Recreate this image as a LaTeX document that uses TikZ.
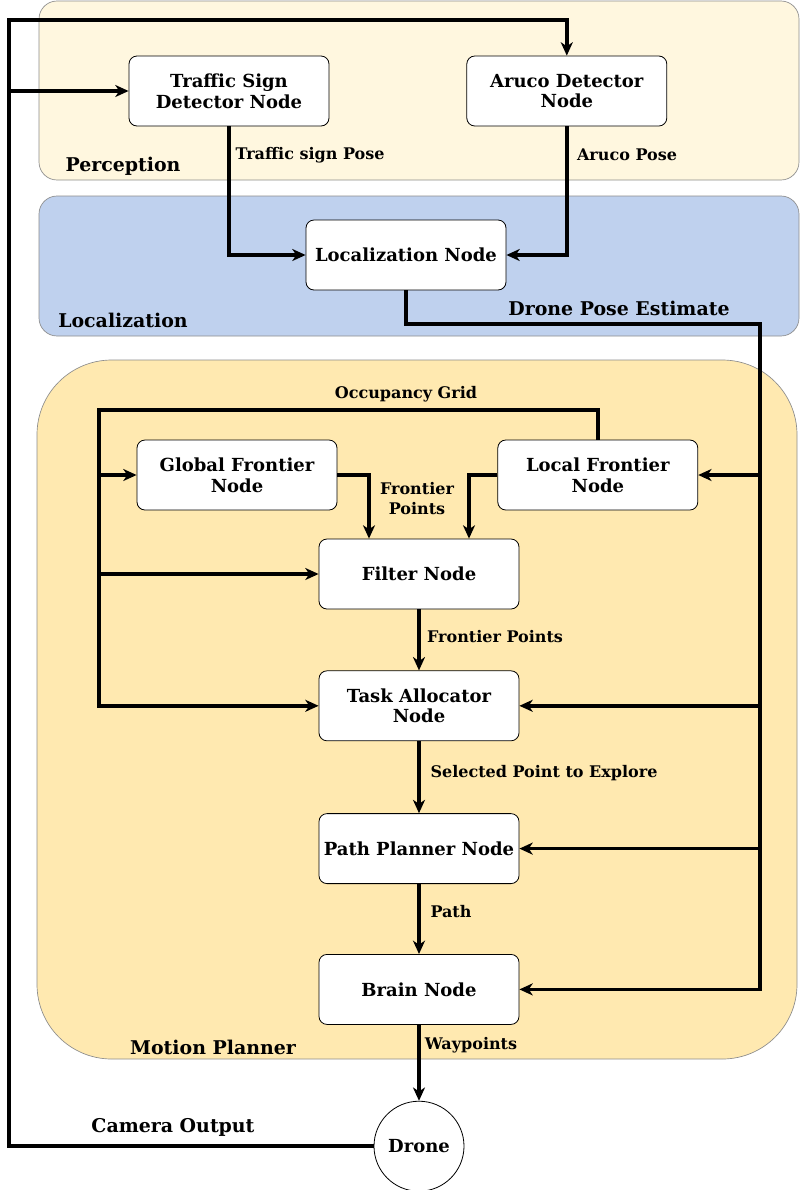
\documentclass[tikz,border=0pt]{standalone}
\usepackage{fontspec}
\setmainfont{DejaVu Serif}
\usetikzlibrary{positioning, arrows.meta, calc}
\definecolor{percFill}{HTML}{FFF7DF}
\definecolor{locFill}{HTML}{BFD1EE}
\definecolor{motFill}{HTML}{FFE9B0}
\definecolor{grpLine}{HTML}{8C8C8C}

\begin{document}
\begin{tikzpicture}[x=0.75pt,y=-0.75pt,nd/.style={draw, fill=white, line width=0.6pt, rounded corners=6pt, minimum width=150pt, minimum height=52.5pt, align=center, inner sep=2pt, font=\bfseries\fontsize{13.5}{15.5}\selectfont},grp/.style={draw=grpLine, line width=0.5pt},glbl/.style={font=\bfseries\fontsize{14.2}{16}\selectfont},elbl/.style={font=\bfseries\fontsize{12}{15}\selectfont, align=center},arr/.style={-{Stealth[length=10pt, width=9pt, inset=3pt]}, line width=2.6pt}]
\useasboundingbox (0,0) rectangle (800,1190);
% groups
\draw[grp, fill=percFill, rounded corners=13.5pt] (39,1) rectangle (799,180);
\draw[grp, fill=locFill, rounded corners=13.5pt] (39,196) rectangle (799,336);
\draw[grp, fill=motFill, rounded corners=56pt] (37,360) rectangle (797,1059);
\node[glbl] (percLbl) at (123,166) {Perception};
\node[glbl] (locLbl) at (123,320) {Localization};
\node[glbl] (motLbl) at (213,1047) {Motion Planner};
% nodes
\node[nd] (tsd) at (229,91) {Traffic Sign\\Detector Node};
\node[nd, right=102.75pt of tsd] (aruco) {Aruco Detector\\Node};
\node[nd] (loc) at (406,255) {Localization Node};
\node[nd] (glob) at (237,475) {Global Frontier\\Node};
\node[nd, right=120pt of glob] (local) {Local Frontier\\Node};
\node[nd] (filter) at (419,574) {Filter Node};
\node[nd, below=45.75pt of filter] (task) {Task Allocator\\Node};
\node[nd, below=54pt of task] (path) {Path Planner Node};
\node[nd, below=52.5pt of path] (brain) {Brain Node};
\node[draw, fill=white, circle, line width=0.6pt, minimum size=67.5pt, inner sep=0pt, font=\bfseries\fontsize{13.5}{15.5}\selectfont, below=57pt of brain] (drone) {Drone};
% bus corners
\coordinate (camL) at (9,20);
\coordinate (busR) at (760,324);
\coordinate (busL) at (99,410);
% connectors
\draw[arr] (drone.west) -| (camL) -| (aruco.north);
\draw[arr] (camL |- tsd.west) -- (tsd.west);
\draw[arr] (tsd.south) |- (loc.west);
\draw[arr] (aruco.south) |- (loc.east);
\draw[arr] (loc.south) |- (busR) |- (brain.east);
\draw[arr] (busR |- local.east) -- (local.east);
\draw[arr] (busR |- task.east) -- (task.east);
\draw[arr] (busR |- path.east) -- (path.east);
\draw[arr] (local.north) |- (busL) |- (task.west);
\draw[arr] (busL |- glob.west) -- (glob.west);
\draw[arr] (busL |- filter.west) -- (filter.west);
\draw[arr] (glob.east) -| ($(filter.north)+(-50,0)$);
\draw[arr] (local.west) -| ($(filter.north)+(50,0)$);
\draw[arr] (filter) -- (task);
\draw[arr] (task) -- (path);
\draw[arr] (path) -- (brain);
\draw[arr] (brain) -- (drone);
% connector labels
\node[glbl] (camLbl) at (173,1127) {Camera Output};
\node[glbl] (dpeLbl) at (619,308) {Drone Pose Estimate};
\node[elbl] (tspLbl) at (310,155) {Traffic sign Pose};
\node[elbl] (apLbl) at (627,155) {Aruco Pose};
\node[elbl] (ogLbl) at (406,394) {Occupancy Grid};
\node[elbl] (fp1Lbl) at (417,499) {Frontier\\Points};
\node[elbl] (fp2Lbl) at (495,637) {Frontier Points};
\node[elbl] (spLbl) at (544,773) {Selected Point to Explore};
\node[elbl] (pathLbl) at (451,912) {Path};
\node[elbl] (wpLbl) at (471,1045) {Waypoints};
\end{tikzpicture}
\end{document}
